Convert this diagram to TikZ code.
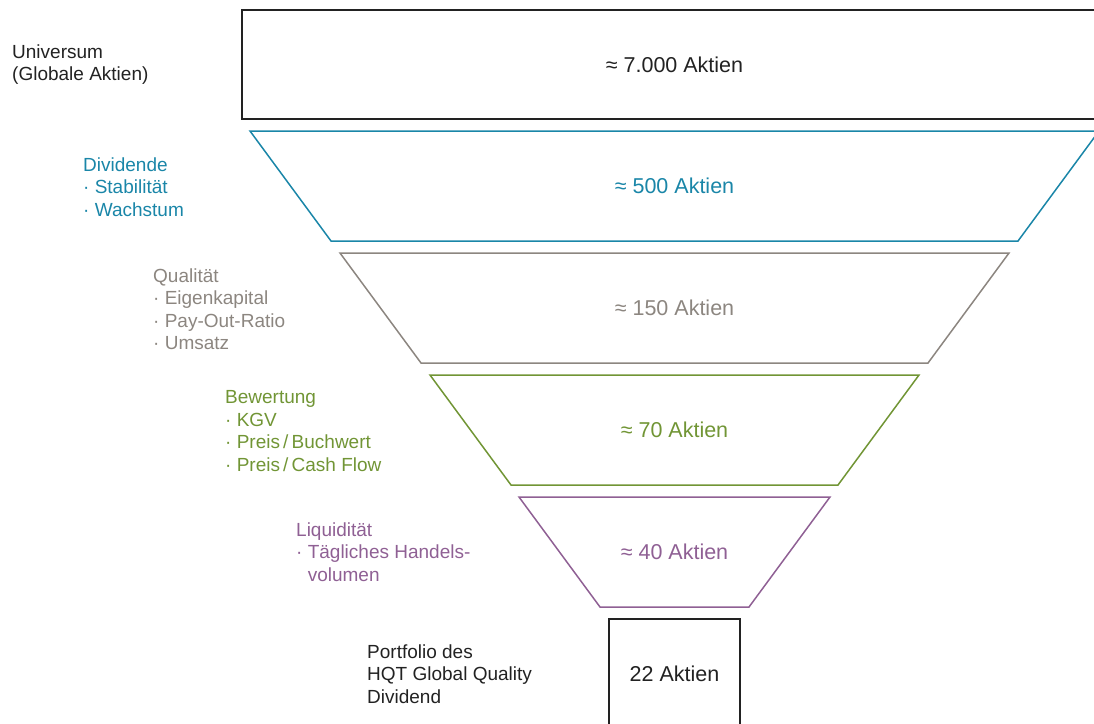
\documentclass[tikz,border=0pt]{standalone}
\usepackage{fontspec}
\setmainfont{Liberation Sans}
\usepackage{xcolor}
\definecolor{hqtBlack}{HTML}{222222}
\definecolor{hqtBlue}{HTML}{1A86A8}
\definecolor{hqtGray}{HTML}{8C8680}
\definecolor{hqtGreen}{HTML}{719535}
\definecolor{hqtPurple}{HTML}{8F6094}
\usepackage{tikz}
\usetikzlibrary{positioning}

\begin{document}
\begin{tikzpicture}[
    x=1pt, y=-1pt,
    box/.style={
        draw=hqtBlack,
        line width=1.8pt
    },
    funnel/.style={
        line width=1.5pt,
        line join=miter
    },
    count/.style={
        font=\fontsize{21.5}{26}\selectfont,
        inner sep=0pt
    },
    crit/.style={
        anchor=west,
        align=left,
        inner sep=0pt,
        font=\fontsize{19}{22.5}\selectfont
    }
]

\clip (0,0) rectangle (1094,723);

% Universum
\draw[box] (242,10) rectangle (1107,119);
\node[count, text=hqtBlack] (universe) at (674.5,64.5) {≈ 7.000 Aktien};
\node[crit, text=hqtBlack] (universeLbl) at (12,64.5) {Universum\\(Globale Aktien)};

% Dividende
\draw[funnel, draw=hqtBlue] (250,131) -- (1099,131) -- (1018,241) -- (331,241) -- cycle;
\node[count, text=hqtBlue] (dividend) at (674.5,186) {≈ 500 Aktien};
\node[crit, text=hqtBlue] (dividendLbl) at (83,187) {Dividende\\· Stabilität\\· Wachstum};

% Qualitaet
\draw[funnel, draw=hqtGray] (340,253) -- (1009,253) -- (928,363) -- (421,363) -- cycle;
\node[count, text=hqtGray] (quality) at (674.5,308) {≈ 150 Aktien};
\node[crit, text=hqtGray] (qualityLbl) at (153,309) {Qualität\\· Eigenkapital\\· Pay-Out-Ratio\\· Umsatz};

% Bewertung
\draw[funnel, draw=hqtGreen] (430,375) -- (919,375) -- (838,485) -- (511,485) -- cycle;
\node[count, text=hqtGreen] (valuation) at (674.5,430) {≈ 70 Aktien};
\node[crit, text=hqtGreen] (valuationLbl) at (225,431) {Bewertung\\· KGV\\· Preis\,/\,Buchwert\\· Preis\,/\,Cash Flow};

% Liquiditaet
\draw[funnel, draw=hqtPurple] (519,497) -- (830,497) -- (749,607) -- (600,607) -- cycle;
\node[count, text=hqtPurple] (liquidity) at (674.5,552) {≈ 40 Aktien};
\node[crit, text=hqtPurple] (liquidityLbl) at (296,552) {Liquidität\\· Tägliches Handels-\\\phantom{· }volumen};

% Portfolio
\draw[box] (609,619) rectangle (740,730);
\node[count, text=hqtBlack] (portfolio) at (674.5,674) {22 Aktien};
\node[crit, text=hqtBlack] (portfolioLbl) at (367,674) {Portfolio des\\HQT Global Quality\\Dividend};

\end{tikzpicture}
\end{document}
